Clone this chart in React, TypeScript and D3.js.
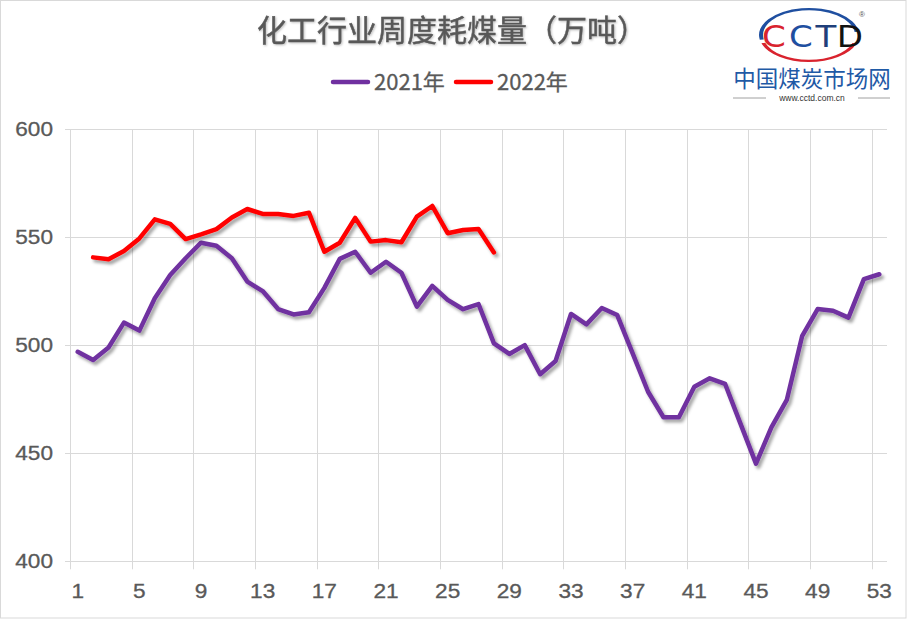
import React, { useRef, useEffect } from 'react';
import * as d3 from 'd3';

const weeks: number[] = Array.from({ length: 53 }, (_, i) => i + 1);

const values2021: number[] = [
    497, 493.2, 499, 510.5, 506.8, 521.8, 532.5, 540.3, 547.5, 546.1,
    540.3, 529.5, 525.1, 516.8, 514.3, 515.3, 526.6, 540, 543.3, 533.6,
    538.7, 533.6, 517.9, 527.5, 521, 516.7, 519.1, 500.9, 496, 500.1,
    486.6, 492.7, 514.5, 509.7, 517.3, 514, 496.3, 478.5, 466.7, 466.7,
    480.8, 484.7, 482.1, 463.6, 445.2, 462, 474.7, 504.4, 516.8, 516,
    512.8, 530.6, 532.9,
];

// 2022 starts at week 2 and stops at week 28
const weeks2022: number[] = Array.from({ length: 27 }, (_, i) => i + 2);
const values2022: number[] = [
    540.7, 539.8, 543.7, 549.5, 558.3, 556.2, 549.2, 551.4, 553.8, 559.2,
    563.1, 560.8, 560.8, 559.9, 561.4, 543.3, 547.5, 559, 548, 548.7,
    547.7, 559.6, 564.5, 551.9, 553.4, 553.8, 543,
];

const yTicks: number[] = [400, 450, 500, 550, 600];
const xTickWeeks: number[] = [1, 5, 9, 13, 17, 21, 25, 29, 33, 37, 41, 45, 49, 53];

const seriesNames: string[] = ['2021年', '2022年'];
const seriesColors: string[] = ['#7030A0', '#FF0000'];

const W = 907;
const H = 619;
const cjk = '"Noto Sans CJK SC", "Microsoft YaHei", sans-serif';
const latin = '"Liberation Sans", Arial, sans-serif';

const App: React.FC = () => {
    const ref = useRef<SVGSVGElement | null>(null);

    useEffect(() => {
        document.body.style.margin = '0';
        if (!ref.current) return;

        const svg = d3.select(ref.current);
        svg.selectAll('*').remove();
        svg.attr('width', W).attr('height', H);

        const defs = svg.append('defs');
        const shadow = defs.append('filter').attr('id', 'sh')
            .attr('x', '-10%').attr('y', '-10%').attr('width', '130%').attr('height', '140%');
        shadow.append('feDropShadow')
            .attr('dx', 2.5).attr('dy', 3).attr('stdDeviation', 1.8)
            .attr('flood-color', '#000').attr('flood-opacity', 0.35);
        const tshadow = defs.append('filter').attr('id', 'tsh');
        tshadow.append('feDropShadow')
            .attr('dx', 1).attr('dy', 1).attr('stdDeviation', 0.8)
            .attr('flood-color', '#000').attr('flood-opacity', 0.25);

        // background + border
        svg.append('rect').attr('x', 0.5).attr('y', 0.5)
            .attr('width', W - 1.5).attr('height', H - 1.5)
            .attr('fill', '#fff').attr('stroke', '#d9d9d9');

        const left = 70;
        const right = 887;
        const top = 129.3;
        const bottom = 561.3;

        const x = d3.scaleBand<number>().domain(weeks).range([left, right]).padding(0);
        const cx = (w: number) => (x(w) as number) + x.bandwidth() / 2;
        const y = d3.scaleLinear().domain([400, 600]).range([bottom, top]);

        const grid = svg.append('g').attr('stroke', '#d9d9d9').attr('stroke-width', 1);
        // horizontal grid
        grid.selectAll('line.h').data(yTicks).join('line')
            .attr('x1', left - 5).attr('x2', right)
            .attr('y1', d => Math.round(y(d)) + 0.5).attr('y2', d => Math.round(y(d)) + 0.5);
        // vertical grid + ticks
        grid.selectAll('line.v').data(xTickWeeks).join('line')
            .attr('x1', d => Math.round(x(d) as number) + 0.5)
            .attr('x2', d => Math.round(x(d) as number) + 0.5)
            .attr('y1', top).attr('y2', bottom + 8);

        // y labels (digits in the source are a wide face, so stretch them a bit)
        svg.append('g').selectAll('text').data(yTicks).join('text')
            .attr('transform', d => `translate(53,${y(d) + 7}) scale(1.16,1)`)
            .attr('text-anchor', 'end')
            .attr('font-family', latin).attr('font-size', 19.5)
            .attr('fill', '#595959').attr('stroke', '#595959').attr('stroke-width', 0.3)
            .text(d => d);

        // x labels
        svg.append('g').selectAll('text').data(xTickWeeks).join('text')
            .attr('transform', d => `translate(${cx(d)},${bottom + 37}) scale(1.16,1)`)
            .attr('text-anchor', 'middle')
            .attr('font-family', latin).attr('font-size', 19.5)
            .attr('fill', '#595959').attr('stroke', '#595959').attr('stroke-width', 0.3)
            .text(d => d);

        const line = d3.line<[number, number]>()
            .x(d => cx(d[0]))
            .y(d => y(d[1]));

        const data2021: [number, number][] = weeks.map((w, i) => [w, values2021[i]]);
        const data2022: [number, number][] = weeks2022.map((w, i) => [w, values2022[i]]);

        [data2021, data2022].forEach((d, i) => {
            svg.append('path')
                .datum(d)
                .attr('d', line)
                .attr('fill', 'none')
                .attr('stroke', seriesColors[i])
                .attr('stroke-width', 4.5)
                .attr('stroke-linejoin', 'round')
                .attr('stroke-linecap', 'round')
                .attr('filter', 'url(#sh)');
        });

        // title
        svg.append('text')
            .attr('x', 452).attr('y', 41)
            .attr('text-anchor', 'middle')
            .attr('font-family', cjk).attr('font-size', 30)
            .attr('fill', '#595959').attr('stroke', '#595959').attr('stroke-width', 0.5)
            .attr('filter', 'url(#tsh)')
            .text('化工行业周度耗煤量（万吨）');

        // legend
        const legend = svg.append('g');
        const legendX = [333, 456];
        seriesNames.forEach((name, i) => {
            legend.append('line')
                .attr('x1', legendX[i]).attr('x2', legendX[i] + 35)
                .attr('y1', 82).attr('y2', 82)
                .attr('stroke', seriesColors[i]).attr('stroke-width', 4.5)
                .attr('stroke-linecap', 'round');
            legend.append('text')
                .attr('x', legendX[i] + 41).attr('y', 90)
                .attr('font-family', cjk).attr('font-size', 22)
                .attr('fill', '#595959').attr('stroke', '#595959').attr('stroke-width', 0.3)
                .text(name);
        });

        // CCTD logo
        const logo = svg.append('g');
        const arc = d3.arc<any>();
        logo.append('path')
            .attr('transform', 'translate(809,35) scale(1,0.54)')
            .attr('d', arc({ innerRadius: 46, outerRadius: 50, startAngle: -1.75, endAngle: 1.45 }) as string)
            .attr('fill', '#1f4fa0');
        logo.append('path')
            .attr('transform', 'translate(809,35) scale(1,0.54)')
            .attr('d', arc({ innerRadius: 46, outerRadius: 50, startAngle: 1.9, endAngle: 4.4 }) as string)
            .attr('fill', '#d9232e');
        const letters = ['C', 'C', 'T', 'D'];
        const letterColors = ['#d9232e', '#1f4fa0', '#1f3f7a', '#111'];
        const letterX = [774, 801, 826, 850];
        letters.forEach((l, i) => {
            logo.append('text')
                .attr('transform', `translate(${letterX[i]},47) scale(1.1,1)`)
                .attr('text-anchor', 'middle')
                .attr('font-family', '"DejaVu Sans", sans-serif')
                .attr('font-size', 31)
                .attr('fill', letterColors[i])
                .text(l);
        });
        logo.append('text')
            .attr('x', 862).attr('y', 17)
            .attr('text-anchor', 'middle')
            .attr('font-family', latin).attr('font-size', 8)
            .attr('fill', '#555')
            .text('®');
        logo.append('text')
            .attr('x', 812).attr('y', 87)
            .attr('text-anchor', 'middle')
            .attr('font-family', cjk).attr('font-size', 22.5)
            .attr('fill', '#1f5aa6')
            .text('中国煤炭市场网');
        logo.append('text')
            .attr('x', 812).attr('y', 101)
            .attr('text-anchor', 'middle')
            .attr('font-family', latin).attr('font-size', 8.5)
            .attr('fill', '#333')
            .text('www.cctd.com.cn');
        logo.append('line').attr('x1', 733).attr('x2', 766).attr('y1', 98).attr('y2', 98)
            .attr('stroke', '#888').attr('stroke-width', 0.8);
        logo.append('line').attr('x1', 858).attr('x2', 890).attr('y1', 98).attr('y2', 98)
            .attr('stroke', '#888').attr('stroke-width', 0.8);
    }, []);

    return (
        <div>
            <svg ref={ref} style={{ display: 'block' }} />
        </div>
    );
};

export default App;
